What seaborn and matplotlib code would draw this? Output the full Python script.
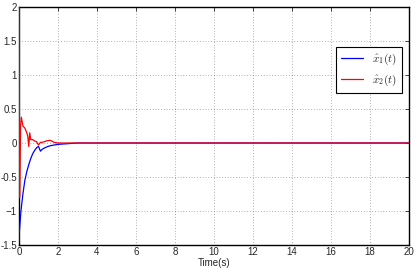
import numpy as np
import pandas as pd
import seaborn as sns
import matplotlib
matplotlib.use("Agg")
import matplotlib.pyplot as plt

t1 = [0.0, 0.02, 0.1, 0.2, 0.3, 0.4, 0.5, 0.6, 0.7, 0.8, 0.9, 1.0, 1.1, 1.2, 1.4, 1.6, 2.0, 2.5, 3.0, 20.0]
x1 = [-1.45, -1.3, -1.0, -0.75, -0.55, -0.42, -0.32, -0.23, -0.16, -0.11, -0.07, -0.05, -0.12, -0.09, -0.06, -0.04, -0.02, -0.01, 0.0, 0.0]

t2 = [0.0, 0.03, 0.08, 0.12, 0.2, 0.3, 0.4, 0.45, 0.5, 0.55, 0.6, 0.7, 0.8, 0.9, 1.0, 1.1, 1.2, 1.4, 1.6, 1.8, 2.0, 20.0]
x2 = [2.0, -0.8, 0.25, 0.38, 0.25, 0.22, 0.15, 0.1, -0.05, 0.15, 0.05, 0.05, 0.03, 0.02, -0.03, 0.01, 0.01, 0.03, 0.04, 0.01, 0.0, 0.0]

labels = [r"$\hat{x}_1(t)$", r"$\hat{x}_2(t)$"]
xticks = [0, 2, 4, 6, 8, 10, 12, 14, 16, 18, 20]
yticks = [-1.5, -1, -0.5, 0, 0.5, 1, 1.5, 2]
ytick_labels = ["-1.5", "\u22121", "-0.5", "0", "0.5", "1", "1.5", "2"]

sns.set_style("white")
plt.rcParams['font.family'] = ['Liberation Sans', 'DejaVu Sans']
plt.rcParams['mathtext.fontset'] = 'cm'

df = pd.concat([
    pd.DataFrame({"t": t1, "v": x1, "s": labels[0]}),
    pd.DataFrame({"t": t2, "v": x2, "s": labels[1]}),
])

fig = plt.figure(figsize=(4.17, 2.74), dpi=100)
ax = fig.add_axes([19/417, 29/274, 390/417, 238/274])
sns.lineplot(data=df, x="t", y="v", hue="s", palette=["#0000ff", "#ff0000"],
             ax=ax, linewidth=0.9, sort=False, estimator=None)
for ln in ax.get_lines():
    ln.set_zorder(3)
ax.set_xlim(0, 20)
ax.set_ylim(-1.5, 2)
ax.set_xticks(xticks)
ax.set_yticks(yticks)
ax.set_yticklabels(ytick_labels)
ax.grid(True, linestyle=(0, (1, 3)), color="black", linewidth=0.5, alpha=0.6)
ax.tick_params(direction="in", length=3, labelsize=7, width=0.6, top=True, right=True, pad=1.5)
for sp in ax.spines.values():
    sp.set_linewidth(1.0)
    sp.set_color("black")
    sp.set_zorder(2.5)
ax.set_xlabel("Time(s)", fontsize=7, labelpad=1)
ax.set_ylabel("")
leg = ax.legend(loc="upper right", bbox_to_anchor=(0.982, 0.832), borderaxespad=0,
                fontsize=8, frameon=True, fancybox=False, edgecolor="black",
                handlelength=2.0, borderpad=0.45, labelspacing=0.45, framealpha=1)
leg.get_frame().set_linewidth(0.8)
fig.savefig("out.png", dpi=100)
